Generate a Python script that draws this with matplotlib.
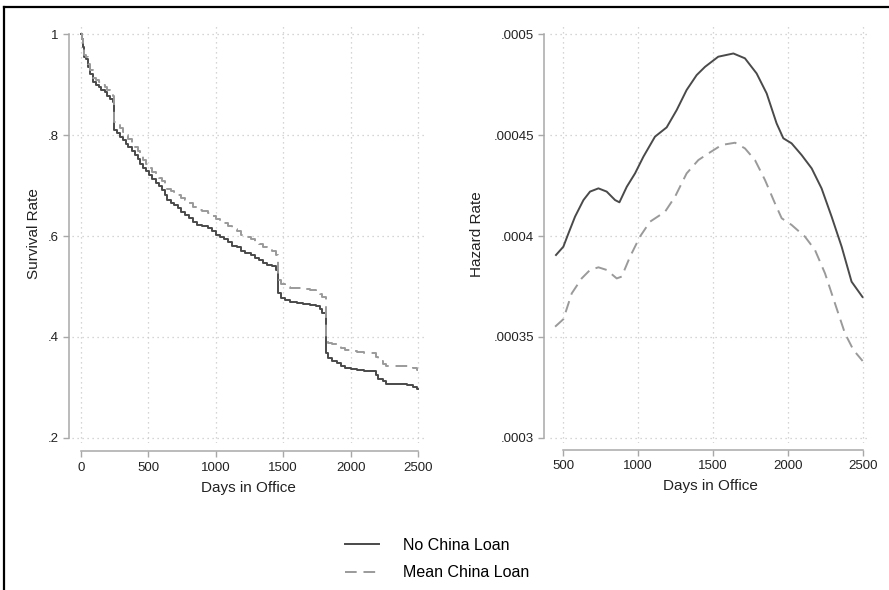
import numpy as np
import matplotlib as mpl
mpl.use('Agg')
from matplotlib import pyplot as plt
from matplotlib.lines import Line2D

plt.rcParams['font.family'] = ['Liberation Sans', 'DejaVu Sans']

# survival (Kaplan-Meier style steps)
surv_days = [0, 5, 15, 25, 40, 55, 70, 90, 110, 130, 150, 175, 195, 215, 235,
             248, 270, 290, 310, 330, 350, 375, 400, 420, 440, 460, 485, 505,
             530, 555, 580, 600, 620, 640, 665, 690, 720, 745, 770, 800, 830,
             860, 900, 940, 970, 1000, 1030, 1060, 1090, 1120, 1160, 1190, 1220,
             1260, 1290, 1320, 1350, 1380, 1420, 1445, 1460, 1480, 1510, 1550,
             1600, 1650, 1700, 1740, 1770, 1790, 1820, 1835, 1860, 1900, 1930,
             1960, 2000, 2050, 2100, 2150, 2185, 2205, 2240, 2260, 2420, 2460,
             2490, 2500]
surv_none = [1.0, 0.99, 0.975, 0.955, 0.95, 0.935, 0.92, 0.905, 0.9, 0.895,
             0.89, 0.885, 0.878, 0.872, 0.865, 0.81, 0.805, 0.797, 0.79, 0.783,
             0.776, 0.768, 0.76, 0.752, 0.742, 0.735, 0.728, 0.72, 0.712, 0.705,
             0.7, 0.692, 0.682, 0.672, 0.666, 0.662, 0.656, 0.648, 0.642, 0.635,
             0.628, 0.622, 0.62, 0.615, 0.61, 0.603, 0.598, 0.595, 0.588, 0.58,
             0.578, 0.571, 0.566, 0.563, 0.556, 0.552, 0.546, 0.543, 0.54, 0.533,
             0.487, 0.478, 0.473, 0.47, 0.468, 0.466, 0.464, 0.461, 0.455, 0.448,
             0.368, 0.358, 0.353, 0.348, 0.343, 0.339, 0.337, 0.335, 0.333,
             0.332, 0.325, 0.316, 0.312, 0.307, 0.305, 0.3, 0.297, 0.297]
surv_mean = [1.0, 0.991, 0.977, 0.959, 0.955, 0.941, 0.928, 0.914, 0.909, 0.905,
             0.9, 0.896, 0.889, 0.884, 0.878, 0.826, 0.822, 0.814, 0.807, 0.8,
             0.793, 0.785, 0.776, 0.768, 0.758, 0.751, 0.743, 0.735, 0.727, 0.72,
             0.715, 0.708, 0.7, 0.693, 0.69, 0.687, 0.682, 0.676, 0.671, 0.665,
             0.658, 0.652, 0.649, 0.645, 0.64, 0.634, 0.63, 0.626, 0.619, 0.613,
             0.61, 0.603, 0.598, 0.595, 0.589, 0.584, 0.578, 0.574, 0.57, 0.562,
             0.512, 0.505, 0.5, 0.498, 0.497, 0.495, 0.494, 0.491, 0.485, 0.48,
             0.397, 0.389, 0.386, 0.382, 0.378, 0.375, 0.373, 0.371, 0.369,
             0.368, 0.36, 0.352, 0.347, 0.343, 0.342, 0.338, 0.335, 0.335]

# smoothed hazard
haz_days_none = [453, 502, 536, 580, 636, 680, 736, 791, 847, 876, 925, 980,
                 1036, 1113, 1191, 1258, 1324, 1391, 1447, 1535, 1636, 1713,
                 1791, 1858, 1924, 1969, 2024, 2091, 2158, 2224, 2291, 2358,
                 2424, 2497]
haz_none = [0.0003906, 0.0003947, 0.0004013, 0.0004096, 0.0004178, 0.000422,
            0.0004236, 0.000422, 0.0004178, 0.0004167, 0.0004244, 0.000431,
            0.0004393, 0.0004492, 0.0004538, 0.0004624, 0.0004723, 0.0004797,
            0.0004838, 0.0004888, 0.0004904, 0.000488, 0.0004805, 0.0004706,
            0.0004558, 0.0004484, 0.0004459, 0.0004401, 0.0004335, 0.0004236,
            0.0004096, 0.0003947, 0.0003774, 0.0003698]
haz_days_mean = [447, 502, 558, 624, 680, 736, 791, 858, 891, 947, 1013, 1080,
                 1180, 1247, 1324, 1402, 1469, 1558, 1647, 1713, 1780, 1847,
                 1913, 1958, 2024, 2113, 2180, 2247, 2313, 2380, 2436, 2498]
haz_mean = [0.0003551, 0.0003588, 0.0003716, 0.000379, 0.0003832, 0.0003845,
            0.0003832, 0.000379, 0.0003799, 0.0003898, 0.0003997, 0.0004071,
            0.000412, 0.0004195, 0.000431, 0.0004376, 0.0004409, 0.0004451,
            0.0004462, 0.0004434, 0.0004376, 0.0004277, 0.0004162, 0.0004088,
            0.0004055, 0.0003997, 0.0003931, 0.0003815, 0.0003667, 0.0003518,
            0.0003436, 0.0003381]

surv_yticks = [0.2, 0.4, 0.6, 0.8, 1.0]
surv_ylabels = ['.2', '.4', '.6', '.8', '1']
surv_xticks = [0, 500, 1000, 1500, 2000, 2500]
haz_yticks = [0.0003, 0.00035, 0.0004, 0.00045, 0.0005]
haz_ylabels = ['.0003', '.00035', '.0004', '.00045', '.0005']
haz_xticks = [500, 1000, 1500, 2000, 2500]

dark = '#4a4a4a'
light = '#9a9a9a'
axcol = '#a8a8a8'

W, H = 889, 590
fig = plt.figure(figsize=(W / 100, H / 100), dpi=100)


def px_axes(l, r, t, b):
    return fig.add_axes([l / W, 1 - b / H, (r - l) / W, (b - t) / H])


def stata_style(ax, xt, yt, ylab, loff, boff):
    for s in ['top', 'right']:
        ax.spines[s].set_visible(False)
    ax.spines['left'].set_position(('outward', loff))
    ax.spines['bottom'].set_position(('outward', boff))
    ax.spines['left'].set_bounds(yt[0], yt[-1])
    ax.spines['bottom'].set_bounds(xt[0], xt[-1])
    for s in ['left', 'bottom']:
        ax.spines[s].set_color(axcol)
        ax.spines[s].set_linewidth(1.1)
    ax.set_xticks(xt)
    ax.set_yticks(yt)
    ax.set_yticklabels(ylab)
    ax.tick_params(colors=axcol, labelcolor='#222222', labelsize=9.5,
                   length=4, width=1.0)
    ax.grid(True, color='#c8c8c8', linestyle=(0, (1, 3)), linewidth=0.9)
    ax.set_xlabel('Days in Office', fontsize=11, color='#222222', labelpad=5)


ax1 = px_axes(72, 425, 25, 443)
ax1.plot(surv_days, surv_none, drawstyle='steps-post', color=dark, lw=1.4)
ax1.plot(surv_days, surv_mean, drawstyle='steps-post', color=light, lw=1.4,
         dashes=(6, 3.5))
ax1.set_xlim(-67, 2552)
ax1.set_ylim(0.19, 1.018)
stata_style(ax1, surv_xticks, surv_yticks, surv_ylabels, 2, 6)
ax1.set_ylabel('Survival Rate', fontsize=11, color='#222222', labelpad=5)

ax2 = px_axes(550, 870, 25, 443)
l1, = ax2.plot(haz_days_none, haz_none, color=dark, lw=1.4)
l2, = ax2.plot(haz_days_mean, haz_mean, color=light, lw=1.4, dashes=(6, 3.5))
ax2.set_xlim(413, 2547)
ax2.set_ylim(0.0002975, 0.0005045)
stata_style(ax2, haz_xticks, haz_yticks, haz_ylabels, 4, 5)
ax2.set_ylabel('Hazard Rate', fontsize=11, color='#222222', labelpad=7)

fig.legend([l1, l2], ['No China Loan', 'Mean China Loan'], loc='center',
           bbox_to_anchor=(437 / W, 1 - 559 / H), frameon=False, fontsize=11.5,
           handlelength=2.1, handletextpad=1.5, labelspacing=0.8)

# figure frame (top and left edges only)
fig.add_artist(Line2D([4 / W, 1], [1 - 7 / H, 1 - 7 / H], color='black', lw=1.6,
                      transform=fig.transFigure))
fig.add_artist(Line2D([4 / W, 4 / W], [0, 1 - 7 / H], color='black', lw=1.6,
                      transform=fig.transFigure))

plt.savefig('out.png', dpi=100)
